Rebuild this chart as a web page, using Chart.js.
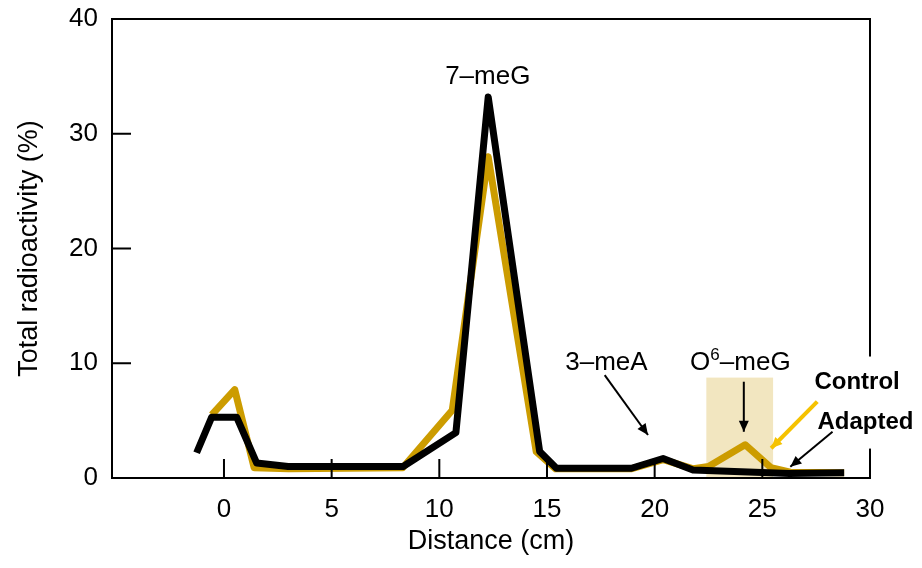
<!DOCTYPE html>
<html>
<head>
<meta charset="utf-8">
<script src="https://cdn.jsdelivr.net/npm/chart.js@4/dist/chart.umd.min.js"></script>
<style>
  body { margin: 0; background: #fff; }
  #wrap { width: 922px; height: 568px; }
</style>
</head>
<body>
<div id="wrap"><canvas id="chart"></canvas></div>
<script>
// Control (gold) and Adapted (black) traces
const controlX = [-0.57, 0.5, 1.4, 3.0, 8.3, 10.6, 12.27, 14.5, 15.4, 18.9, 20.4, 21.8, 22.5, 24.2, 25.4, 26.3, 28.8];
const controlY = [5.5, 7.7, 0.9, 0.8, 0.9, 5.9, 28.0, 2.3, 0.8, 0.8, 1.6, 0.8, 1.0, 2.9, 0.9, 0.5, 0.45];
const adaptedX = [-1.27, -0.57, 0.59, 1.52, 2.98, 8.32, 10.77, 12.27, 14.66, 15.44, 18.92, 20.39, 21.78, 26.26, 28.8];
const adaptedY = [2.2, 5.3, 5.3, 1.3, 1.0, 1.0, 3.95, 33.2, 2.3, 0.85, 0.85, 1.7, 0.7, 0.4, 0.45];

const xTicks = [0, 5, 10, 15, 20, 25, 30];
const yTicks = [0, 10, 20, 30, 40];

// peak labels: pieces [text, superscript?], x, y (data units)
const peakLabels = [
    [[["7\u2013meG", false]], 12.25, 35.0],
    [[["3\u2013meA", false]], 17.76, 10.04],
    [[["O", false], ["6", true], ["\u2013meG", false]], 23.98, 10.04]
];
// arrows: x0, y0, x1, y1, colour
const arrows = [
    [17.68, 8.97, 19.69, 3.75, "#000"],
    [24.14, 8.39, 24.14, 4.03, "#000"],
    [27.55, 6.65, 25.41, 2.59, "#f5c200"],
    [28.26, 4.03, 26.3, 0.98, "#000"]
];
const legendLabels = [["Control", 27.42, 8.32], ["Adapted", 27.56, 4.83]];
const o6Box = [22.4, 25.5, 0, 8.75];

const FONT = "'Liberation Sans', Arial, Helvetica, sans-serif";

function pts(xs, ys) {
    return xs.map((x, i) => ({ x: x, y: ys[i] }));
}

function arrowHead(ctx, x0, y0, x1, y1, color) {
    const a = Math.atan2(y1 - y0, x1 - x0);
    const len = 11, w = 5;
    ctx.fillStyle = color;
    ctx.beginPath();
    ctx.moveTo(x1, y1);
    ctx.lineTo(x1 - len * Math.cos(a) + w * Math.sin(a), y1 - len * Math.sin(a) - w * Math.cos(a));
    ctx.lineTo(x1 - len * Math.cos(a) - w * Math.sin(a), y1 - len * Math.sin(a) + w * Math.cos(a));
    ctx.closePath();
    ctx.fill();
}

function drawPieces(ctx, pieces, cx, cy) {
    const big = "26px " + FONT, small = "17px " + FONT;
    let total = 0;
    pieces.forEach(p => {
        ctx.font = p[1] ? small : big;
        total += ctx.measureText(p[0]).width;
    });
    let x = cx - total / 2;
    ctx.textAlign = "left";
    ctx.textBaseline = "middle";
    pieces.forEach(p => {
        ctx.font = p[1] ? small : big;
        ctx.fillText(p[0], x, p[1] ? cy - 7 : cy);
        x += ctx.measureText(p[0]).width;
    });
}

function noPad(s) {
    s.paddingTop = 0;
    s.paddingBottom = 0;
    s.paddingLeft = 0;
    s.paddingRight = 0;
}

const decor = {
    id: "decor",
    beforeDatasetsDraw(chart) {
        const ctx = chart.ctx, xs = chart.scales.x, ys = chart.scales.y;
        const l = xs.getPixelForValue(o6Box[0]), r = xs.getPixelForValue(o6Box[1]);
        const t = ys.getPixelForValue(o6Box[3]), b = ys.getPixelForValue(o6Box[2]);
        ctx.save();
        ctx.fillStyle = "#f2e6c0";
        ctx.fillRect(l, t, r - l, b - t);
        ctx.restore();
    },
    afterDatasetsDraw(chart) {
        const ctx = chart.ctx, xs = chart.scales.x, ys = chart.scales.y;
        const a = chart.chartArea;
        ctx.save();
        // frame
        ctx.strokeStyle = "#000";
        ctx.lineWidth = 2;
        ctx.strokeRect(a.left, a.top, a.right - a.left, a.bottom - a.top);
        // inward ticks
        ctx.beginPath();
        xTicks.forEach(v => {
            const px = xs.getPixelForValue(v);
            ctx.moveTo(px, a.bottom);
            ctx.lineTo(px, a.bottom - 19);
        });
        yTicks.forEach(v => {
            const py = ys.getPixelForValue(v);
            ctx.moveTo(a.left, py);
            ctx.lineTo(a.left + 19, py);
        });
        ctx.stroke();

        // peak labels
        ctx.fillStyle = "#000";
        peakLabels.forEach(p => {
            drawPieces(ctx, p[0], xs.getPixelForValue(p[1]), ys.getPixelForValue(p[2]));
        });

        // legend-style labels with white backing
        ctx.font = "bold 24px " + FONT;
        ctx.textAlign = "left";
        ctx.textBaseline = "middle";
        legendLabels.forEach(p => {
            const px = xs.getPixelForValue(p[1]), py = ys.getPixelForValue(p[2]);
            const w = ctx.measureText(p[0]).width;
            ctx.fillStyle = "#fff";
            ctx.fillRect(px - 4, py - 26, w + 8, 52);
        });
        ctx.fillStyle = "#000";
        legendLabels.forEach(p => {
            ctx.fillText(p[0], xs.getPixelForValue(p[1]), ys.getPixelForValue(p[2]));
        });

        // arrows
        arrows.forEach(r => {
            const x0 = xs.getPixelForValue(r[0]), y0 = ys.getPixelForValue(r[1]);
            const x1 = xs.getPixelForValue(r[2]), y1 = ys.getPixelForValue(r[3]);
            ctx.strokeStyle = r[4];
            ctx.lineWidth = r[4] === "#000" ? 2 : 4;
            ctx.beginPath();
            ctx.moveTo(x0, y0);
            ctx.lineTo(x1, y1);
            ctx.stroke();
            arrowHead(ctx, x0, y0, x1, y1, r[4]);
        });
        ctx.restore();
    }
};

new Chart(document.getElementById("chart"), {
    type: "line",
    data: {
        datasets: [
            {
                label: "Control",
                data: pts(controlX, controlY),
                borderColor: "#cc9c00",
                borderWidth: 7,
                borderJoinStyle: "round",
                pointRadius: 0,
                tension: 0,
                order: 2
            },
            {
                label: "Adapted",
                data: pts(adaptedX, adaptedY),
                borderColor: "#000",
                borderWidth: 7,
                borderJoinStyle: "round",
                pointRadius: 0,
                tension: 0,
                order: 1
            }
        ]
    },
    options: {
        responsive: true,
        maintainAspectRatio: false,
        animation: false,
        layout: { padding: { top: 19, right: 52, left: 0, bottom: 0 } },
        plugins: { legend: { display: false }, tooltip: { enabled: false } },
        scales: {
            x: {
                type: "linear",
                min: -5.2,
                max: 30,
                afterBuildTicks: s => { s.ticks = xTicks.map(v => ({ value: v })); },
                afterFit: s => { s.height = 90; noPad(s); },
                grid: { display: false, drawTicks: false },
                border: { display: false },
                ticks: { color: "#000", padding: 16, font: { size: 26, family: FONT } },
                title: {
                    display: true,
                    text: "Distance (cm)",
                    color: "#000",
                    font: { size: 27, family: FONT },
                    padding: { top: 0, bottom: 10 }
                }
            },
            y: {
                min: 0,
                max: 40,
                afterBuildTicks: s => { s.ticks = yTicks.map(v => ({ value: v })); },
                afterFit: s => { s.width = 112; noPad(s); },
                grid: { display: false, drawTicks: false },
                border: { display: false },
                ticks: { color: "#000", padding: 14, font: { size: 26, family: FONT } },
                title: {
                    display: true,
                    text: "Total radioactivity (%)",
                    color: "#000",
                    font: { size: 27, family: FONT },
                    padding: { top: 13, bottom: 0 }
                }
            }
        }
    },
    plugins: [decor]
});
</script>
</body>
</html>
